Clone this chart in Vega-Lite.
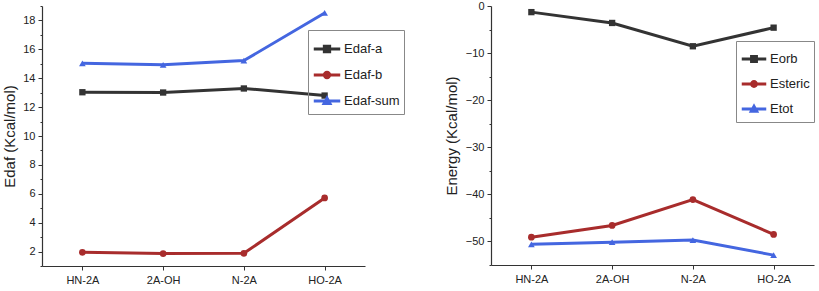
{
  "$schema": "https://vega.github.io/schema/vega-lite/v6.json",
  "padding": {"left": 2, "top": 0, "right": 0, "bottom": 0},
  "background": "white",
  "config": {
    "font": "Liberation Sans",
    "view": {"stroke": null},
    "axis": {"grid": false, "domainColor": "#333", "tickColor": "#333", "labelColor": "#222", "titleColor": "#222", "labelFont": "Liberation Sans", "titleFont": "Liberation Sans", "titleFontWeight": "normal", "labelFontSize": 11, "titleFontSize": 15, "domainWidth": 1.2}
  },
  "bounds": "flush",
  "spacing": 126,
  "resolve": {"scale": {"color": "independent", "x": "independent", "y": "independent"}, "legend": {"color": "independent"}},
  "datasets": {
    "left": [
      {"cat": "HN-2A", "series": "Edaf-a", "value": 13.03},
      {"cat": "2A-OH", "series": "Edaf-a", "value": 13.01},
      {"cat": "N-2A", "series": "Edaf-a", "value": 13.29},
      {"cat": "HO-2A", "series": "Edaf-a", "value": 12.8},
      {"cat": "HN-2A", "series": "Edaf-b", "value": 1.95},
      {"cat": "2A-OH", "series": "Edaf-b", "value": 1.86},
      {"cat": "N-2A", "series": "Edaf-b", "value": 1.88},
      {"cat": "HO-2A", "series": "Edaf-b", "value": 5.71},
      {"cat": "HN-2A", "series": "Edaf-sum", "value": 15.03},
      {"cat": "2A-OH", "series": "Edaf-sum", "value": 14.93},
      {"cat": "N-2A", "series": "Edaf-sum", "value": 15.22},
      {"cat": "HO-2A", "series": "Edaf-sum", "value": 18.52}
    ],
    "right": [
      {"cat": "HN-2A", "series": "Eorb", "value": -1.3},
      {"cat": "2A-OH", "series": "Eorb", "value": -3.6},
      {"cat": "N-2A", "series": "Eorb", "value": -8.55},
      {"cat": "HO-2A", "series": "Eorb", "value": -4.6},
      {"cat": "HN-2A", "series": "Esteric", "value": -49.1},
      {"cat": "2A-OH", "series": "Esteric", "value": -46.6},
      {"cat": "N-2A", "series": "Esteric", "value": -41.1},
      {"cat": "HO-2A", "series": "Esteric", "value": -48.5},
      {"cat": "HN-2A", "series": "Etot", "value": -50.6},
      {"cat": "2A-OH", "series": "Etot", "value": -50.15},
      {"cat": "N-2A", "series": "Etot", "value": -49.7},
      {"cat": "HO-2A", "series": "Etot", "value": -52.9}
    ]
  },
  "hconcat": [
    {
      "width": 323,
      "height": 260,
      "data": {"name": "left"},
      "encoding": {
        "x": {"field": "cat", "type": "ordinal", "sort": ["HN-2A", "2A-OH", "N-2A", "HO-2A"], "scale": {"type": "point", "padding": 0.5}, "axis": {"title": null, "labelAngle": 0, "tickSize": 4, "labelPadding": 4}},
        "y": {"field": "value", "type": "quantitative", "scale": {"domain": [1, 19], "nice": false, "zero": false}, "axis": {"title": "Edaf (Kcal/mol)", "values": [1,2,3,4,5,6,7,8,9,10,11,12,13,14,15,16,17,18,19], "labelExpr": "datum.value % 2 === 0 ? datum.label : ''", "tickSize": {"condition": {"test": "datum.value % 2 === 0", "value": 4}, "value": 2}, "labelPadding": 3, "titlePadding": 5}}
      },
      "layer": [
        {"mark": {"type": "line", "strokeWidth": 3},
         "encoding": {"color": {"field": "series", "type": "nominal", "scale": {"domain": ["Edaf-a", "Edaf-b", "Edaf-sum"], "range": ["#333333", "#a82c2c", "#4466e0"]},
          "legend": {"title": null, "orient": "none", "legendX": 266, "legendY": 24, "strokeColor": "#888", "padding": 4, "labelFontSize": 13, "labelFont": "Liberation Sans", "labelColor": "#222", "symbolSize": 700, "symbolStrokeWidth": 3, "rowPadding": 2, "labelOffset": 2,
            "encode": {"symbols": {"update": {"shape": {"signal": "datum.value === 'Edaf-a' ? 'M-1,0H1M-0.2,-0.2H0.2V0.2H-0.2Z' : datum.value === 'Edaf-b' ? 'M-1,0H1M-0.2,0A0.2,0.2,0,1,0,0.2,0A0.2,0.2,0,1,0,-0.2,0Z' : 'M-1,0H1M-0.22,0.18L0,-0.22L0.22,0.18Z'"}}}}}}}},
        {"transform": [{"filter": "datum.series === 'Edaf-a'"}], "mark": {"type": "point", "filled": true, "size": 40, "opacity": 1, "shape": "square"}, "encoding": {"color": {"field": "series", "type": "nominal", "legend": null}}},
        {"transform": [{"filter": "datum.series === 'Edaf-b'"}], "mark": {"type": "point", "filled": true, "size": 45, "opacity": 1, "shape": "circle"}, "encoding": {"color": {"field": "series", "type": "nominal", "legend": null}}},
        {"transform": [{"filter": "datum.series === 'Edaf-sum'"}], "mark": {"type": "point", "filled": true, "size": 45, "opacity": 1, "shape": "triangle-up"}, "encoding": {"color": {"field": "series", "type": "nominal", "legend": null}}}
      ]
    },
    {
      "width": 323,
      "height": 259,
      "data": {"name": "right"},
      "encoding": {
        "x": {"field": "cat", "type": "ordinal", "sort": ["HN-2A", "2A-OH", "N-2A", "HO-2A"], "scale": {"type": "point", "padding": 0.5}, "axis": {"title": null, "labelAngle": 0, "tickSize": 4, "labelPadding": 4}},
        "y": {"field": "value", "type": "quantitative", "scale": {"domain": [-55, 0], "nice": false, "zero": false}, "axis": {"title": "Energy (Kcal/mol)", "values": [-55,-50,-45,-40,-35,-30,-25,-20,-15,-10,-5,0], "labelExpr": "datum.value % 10 === 0 ? datum.label : ''", "tickSize": {"condition": {"test": "datum.value % 10 === 0", "value": 4}, "value": 2}, "labelPadding": 3, "titlePadding": 6}}
      },
      "layer": [
        {"mark": {"type": "line", "strokeWidth": 3},
         "encoding": {"color": {"field": "series", "type": "nominal", "scale": {"domain": ["Eorb", "Esteric", "Etot"], "range": ["#333333", "#a82c2c", "#4466e0"]},
          "legend": {"title": null, "orient": "none", "legendX": 245, "legendY": 35, "strokeColor": "#888", "padding": 4, "labelFontSize": 13, "labelFont": "Liberation Sans", "labelColor": "#222", "symbolSize": 600, "symbolStrokeWidth": 3, "rowPadding": 2, "labelOffset": 2,
            "encode": {"symbols": {"update": {"shape": {"signal": "datum.value === 'Eorb' ? 'M-1,0H1M-0.2,-0.2H0.2V0.2H-0.2Z' : datum.value === 'Esteric' ? 'M-1,0H1M-0.2,0A0.2,0.2,0,1,0,0.2,0A0.2,0.2,0,1,0,-0.2,0Z' : 'M-1,0H1M-0.22,0.18L0,-0.22L0.22,0.18Z'"}}}}}}}},
        {"transform": [{"filter": "datum.series === 'Eorb'"}], "mark": {"type": "point", "filled": true, "size": 40, "opacity": 1, "shape": "square"}, "encoding": {"color": {"field": "series", "type": "nominal", "legend": null}}},
        {"transform": [{"filter": "datum.series === 'Esteric'"}], "mark": {"type": "point", "filled": true, "size": 45, "opacity": 1, "shape": "circle"}, "encoding": {"color": {"field": "series", "type": "nominal", "legend": null}}},
        {"transform": [{"filter": "datum.series === 'Etot'"}], "mark": {"type": "point", "filled": true, "size": 45, "opacity": 1, "shape": "triangle-up"}, "encoding": {"color": {"field": "series", "type": "nominal", "legend": null}}}
      ]
    }
  ]
}
